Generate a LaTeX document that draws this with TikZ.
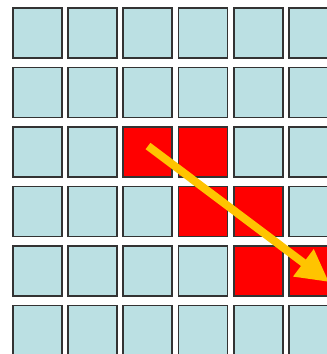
\documentclass[tikz,border=0pt]{standalone}
\usetikzlibrary{arrows.meta}

\begin{document}
\begin{tikzpicture}[
    x=1pt, y=-1pt,
    % --- Styles ---
    cell/.style={draw=black!80, line width=1.7pt, minimum width=49pt, minimum height=50pt, inner sep=0pt, anchor=north west, fill=cellBlue},
    hot/.style={fill=hotRed},
    arrow_yellow/.style={-{Triangle[length=32pt, width=32pt]}, line width=8pt, color=arrYellow}
]

    % --- Colors ---
    \definecolor{cellBlue}{RGB}{187,224,227}  % Cell Blue
    \definecolor{hotRed}{RGB}{255,0,0}        % Marked Red
    \definecolor{arrYellow}{RGB}{255,196,0}   % Arrow Yellow

    \useasboundingbox (0,0) rectangle (327,354);
    \clip (0,0) rectangle (327,354);

    % ==========================
    % 1. GRID OF CELLS
    % ==========================
    \foreach \r in {1,...,6} {
        \foreach \c in {1,...,6} {
            \node[cell] (c-\r-\c) at ({12+55.2*(\c-1)}, {7+59.5*(\r-1)}) {};
        }
    }

    % ==========================
    % 2. MARKED CELLS (Red)
    % ==========================
    \foreach \r/\c in {3/3, 3/4, 4/4, 4/5, 5/5, 5/6} {
        \node[cell, hot] at (c-\r-\c.north west) {};
    }

    % ==========================
    % 3. ARROW
    % ==========================
    \coordinate (a_start) at (148,146);
    \coordinate (a_end) at (329,282);
    \draw[arrow_yellow] (a_start) -- (a_end);

\end{tikzpicture}
\end{document}
